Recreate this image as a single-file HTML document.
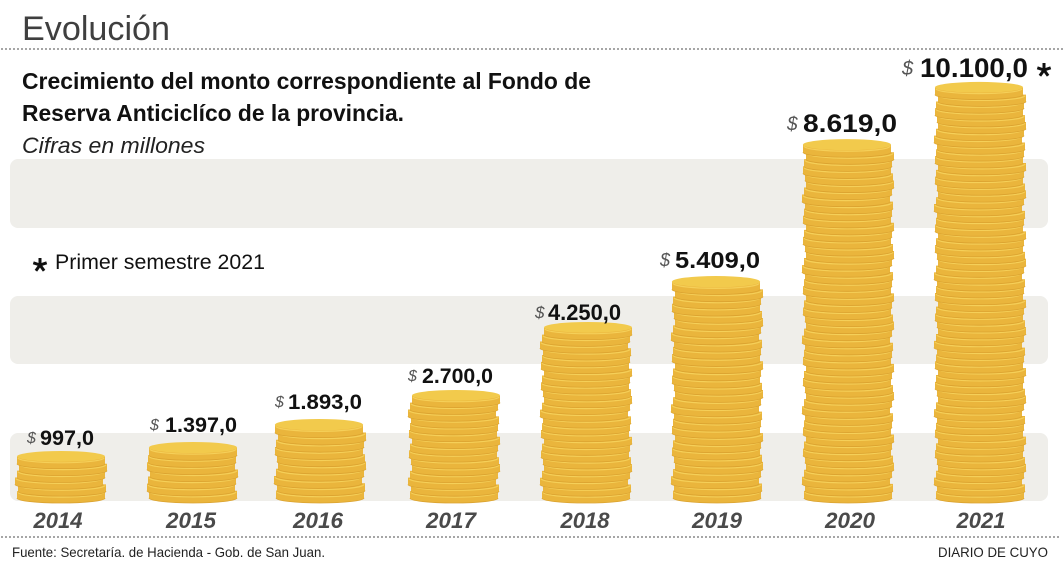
<!DOCTYPE html>
<html>
<head>
<meta charset="utf-8">
<style>
html,body{margin:0;padding:0;background:#fff;}
svg{display:block;}
text{font-family:"Liberation Sans",Arial,sans-serif;}
</style>
</head>
<body>
<svg width="1063" height="567" viewBox="0 0 1063 567" xmlns="http://www.w3.org/2000/svg">
<defs>
  <g id="c">
    <path d="M0,-12 L0,-5 A44,5 0 0 0 88,-5 L88,-12 Z" fill="#eab53c"/>
    <path d="M1,-11 A43,5 0 0 0 87,-11" fill="none" stroke="#f5cf58" stroke-width="1.2"/>
    <path d="M0,-5 A44,5 0 0 0 88,-5" fill="none" stroke="#dba330" stroke-width="0.8"/>
  </g>
  <g id="t">
    <ellipse cx="44" cy="-12.5" rx="44" ry="5.5" fill="#f2ca4c"/>
  </g>
  <g id="g5a">
    <use href="#c" x="0" y="0"/>
    <use href="#c" x="1" y="-7"/>
    <use href="#c" x="-2" y="-14"/>
    <use href="#c" x="0" y="-21"/>
    <use href="#c" x="2" y="-28"/>
  </g>
  <g id="g5b">
    <use href="#c" x="1" y="0"/>
    <use href="#c" x="-1" y="-7"/>
    <use href="#c" x="0" y="-14"/>
    <use href="#c" x="2" y="-21"/>
    <use href="#c" x="-1" y="-28"/>
  </g>
  <g id="g10">
    <use href="#g5a"/>
    <use href="#g5b" y="-35"/>
  </g>
</defs>

<!-- header -->
<text x="22" y="40" font-size="34" fill="#3f3f3f" textLength="148" lengthAdjust="spacingAndGlyphs">Evolución</text>
<line x1="2" y1="49" x2="1063" y2="49" stroke="#666" stroke-width="1.8" stroke-dasharray="0 4" stroke-linecap="round"/>

<text x="22" y="89" font-size="23" font-weight="bold" fill="#111" textLength="569" lengthAdjust="spacingAndGlyphs">Crecimiento del monto correspondiente al Fondo de</text>
<text x="22" y="121" font-size="23" font-weight="bold" fill="#111" textLength="382" lengthAdjust="spacingAndGlyphs">Reserva Anticiclíco de la provincia.</text>
<text x="22" y="153" font-size="22" font-style="italic" fill="#222" textLength="183" lengthAdjust="spacingAndGlyphs">Cifras en millones</text>

<!-- bands -->
<rect x="10" y="159" width="1038" height="69" rx="8" fill="#efeeea"/>
<rect x="10" y="296" width="1038" height="68" rx="8" fill="#efeeea"/>
<rect x="10" y="433" width="1038" height="68" rx="8" fill="#efeeea"/>

<!-- footnote -->
<g stroke="#111" stroke-width="3" stroke-linecap="butt">
  <line x1="40" y1="265" x2="40" y2="258"/>
  <line x1="40" y1="265" x2="46.7" y2="262.8"/>
  <line x1="40" y1="265" x2="44.1" y2="270.7"/>
  <line x1="40" y1="265" x2="35.9" y2="270.7"/>
  <line x1="40" y1="265" x2="33.3" y2="262.8"/>
</g>
<text x="55" y="269" font-size="21" fill="#111" textLength="210" lengthAdjust="spacingAndGlyphs">Primer semestre 2021</text>

<!-- stacks -->
<g transform="translate(17,503) scale(1,0.981)">
  <use href="#g5a"/>
  <use href="#c" x="0" y="-35"/>
  <use href="#t" x="0" y="-35"/>
</g>
<g transform="translate(148,503) scale(1,1.017)">
  <use href="#g5b"/>
  <use href="#c" x="0" y="-35"/>
  <use href="#c" x="1" y="-42"/>
  <use href="#t" x="1" y="-42"/>
</g>
<g transform="translate(276,503) scale(1,1.0375)">
  <use href="#g10"/>
  <use href="#t" x="-1" y="-63"/>
</g>
<g transform="translate(410,503) scale(1,0.974)">
  <use href="#g10"/>
  <use href="#g5a" y="-70"/>
  <use href="#t" x="2" y="-98"/>
</g>
<g transform="translate(542,503) scale(1,0.973)">
  <use href="#g10"/>
  <use href="#g10" y="-70"/>
  <use href="#g5a" y="-140"/>
  <use href="#t" x="2" y="-168"/>
</g>
<g transform="translate(673,503) scale(1,1.027)">
  <use href="#g10"/>
  <use href="#g10" y="-70"/>
  <use href="#g10" y="-140"/>
  <use href="#t" x="-1" y="-203"/>
</g>
<g transform="translate(804,503) scale(1,1.008)">
  <use href="#g10"/>
  <use href="#g10" y="-70"/>
  <use href="#g10" y="-140"/>
  <use href="#g10" y="-210"/>
  <use href="#g10" y="-280"/>
  <use href="#t" x="-1" y="-343"/>
</g>
<g transform="translate(936,503) scale(1,0.977)">
  <use href="#g10"/>
  <use href="#g10" y="-70"/>
  <use href="#g10" y="-140"/>
  <use href="#g10" y="-210"/>
  <use href="#g10" y="-280"/>
  <use href="#g10" y="-350"/>
  <use href="#t" x="-1" y="-413"/>
</g>

<!-- value labels -->
<g fill="#555" font-style="italic">
  <text x="27" y="443" font-size="16">$</text>
  <text x="150" y="430" font-size="16">$</text>
  <text x="275" y="407" font-size="16">$</text>
  <text x="408" y="381" font-size="16">$</text>
  <text x="535" y="318" font-size="17">$</text>
  <text x="660" y="266" font-size="18">$</text>
  <text x="787" y="130" font-size="19">$</text>
  <text x="902" y="75" font-size="20">$</text>
</g>
<g fill="#111" font-weight="bold">
  <text x="40" y="445" font-size="21" textLength="54" lengthAdjust="spacingAndGlyphs">997,0</text>
  <text x="165" y="432" font-size="21" textLength="72" lengthAdjust="spacingAndGlyphs">1.397,0</text>
  <text x="288" y="409" font-size="21" textLength="74" lengthAdjust="spacingAndGlyphs">1.893,0</text>
  <text x="422" y="383" font-size="21" textLength="71" lengthAdjust="spacingAndGlyphs">2.700,0</text>
  <text x="548" y="320" font-size="22" textLength="73" lengthAdjust="spacingAndGlyphs">4.250,0</text>
  <text x="675" y="268" font-size="23" textLength="85" lengthAdjust="spacingAndGlyphs">5.409,0</text>
  <text x="803" y="132" font-size="25" textLength="94" lengthAdjust="spacingAndGlyphs">8.619,0</text>
  <text x="920" y="77" font-size="27" textLength="108" lengthAdjust="spacingAndGlyphs">10.100,0</text>
</g>
<g stroke="#111" stroke-width="3" stroke-linecap="butt">
  <line x1="1044" y1="70" x2="1044" y2="63"/>
  <line x1="1044" y1="70" x2="1050.7" y2="67.8"/>
  <line x1="1044" y1="70" x2="1048.1" y2="75.7"/>
  <line x1="1044" y1="70" x2="1039.9" y2="75.7"/>
  <line x1="1044" y1="70" x2="1037.3" y2="67.8"/>
</g>

<!-- years -->
<g fill="#4a4a4a" font-weight="bold" font-style="italic" font-size="22" text-anchor="middle">
  <text x="58" y="528" textLength="49" lengthAdjust="spacingAndGlyphs">2014</text>
  <text x="191" y="528" textLength="50" lengthAdjust="spacingAndGlyphs">2015</text>
  <text x="318" y="528" textLength="50" lengthAdjust="spacingAndGlyphs">2016</text>
  <text x="451" y="528" textLength="50" lengthAdjust="spacingAndGlyphs">2017</text>
  <text x="585" y="528" textLength="49" lengthAdjust="spacingAndGlyphs">2018</text>
  <text x="717" y="528" textLength="50" lengthAdjust="spacingAndGlyphs">2019</text>
  <text x="850" y="528" textLength="50" lengthAdjust="spacingAndGlyphs">2020</text>
  <text x="981" y="528" textLength="49" lengthAdjust="spacingAndGlyphs">2021</text>
</g>

<!-- footer -->
<line x1="2" y1="537" x2="1060" y2="537" stroke="#666" stroke-width="1.8" stroke-dasharray="0 4" stroke-linecap="round"/>
<text x="12" y="557" font-size="14" fill="#222" textLength="313" lengthAdjust="spacingAndGlyphs">Fuente: Secretaría. de Hacienda - Gob. de San Juan.</text>
<text x="938" y="557" font-size="14" fill="#222" textLength="110" lengthAdjust="spacingAndGlyphs">DIARIO DE CUYO</text>
</svg>
</body>
</html>
